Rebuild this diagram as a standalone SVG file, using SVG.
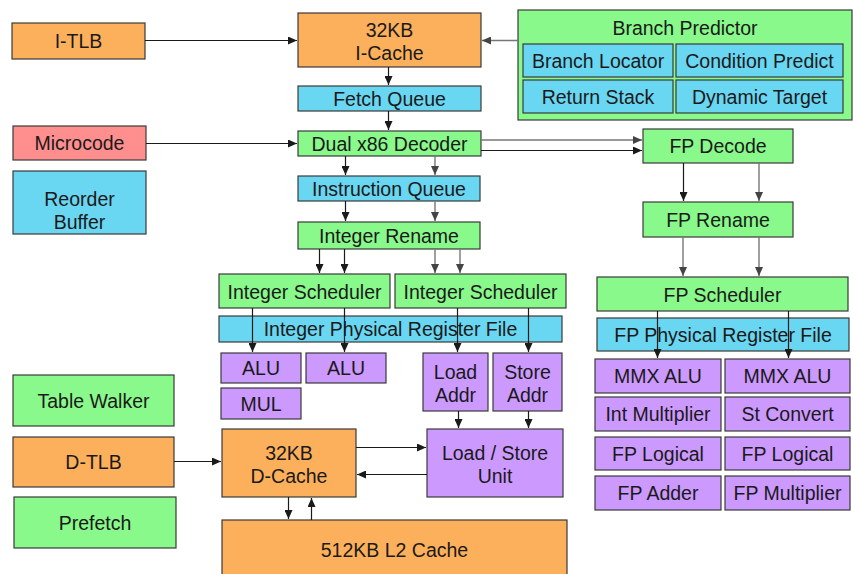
<svg xmlns="http://www.w3.org/2000/svg" width="853" height="574" viewBox="0 0 853 574">
<style>
rect{stroke:#3a3a3a;stroke-width:1.2}
.o{fill:#FDB05B}.g{fill:#88F98A}.b{fill:#69D6F2}.p{fill:#CC99FF}.r{fill:#FF8E8E}
text{font-family:"Liberation Sans",Arial,sans-serif;font-size:19.5px;fill:#1a1a1a;text-anchor:middle;dominant-baseline:central}
.k{stroke:#1a1a1a;stroke-width:1.2;fill:none}
.s{stroke:#777;stroke-width:1.4;fill:none}
</style>
<defs>
<marker id="ak" markerUnits="userSpaceOnUse" markerWidth="9" markerHeight="8" refX="9" refY="4" orient="auto"><path d="M0,0L9,4L0,8z" fill="#1a1a1a"/></marker>
<marker id="as" markerUnits="userSpaceOnUse" markerWidth="9" markerHeight="8" refX="9" refY="4" orient="auto"><path d="M0,0L9,4L0,8z" fill="#444"/></marker>
</defs>
<g id="itlb"><rect class="o" x="12" y="23" width="133" height="36"/><text x="78.5" y="41">I-TLB</text></g>
<g id="microcode"><rect class="r" x="13" y="126" width="133" height="34"/><text x="79.5" y="143">Microcode</text></g>
<g id="reorder"><rect class="b" x="13" y="171" width="133" height="63"/><text x="79.5" y="199">Reorder</text><text x="79.5" y="222">Buffer</text></g>
<g id="tablewalker"><rect class="g" x="13" y="375" width="161" height="51"/><text x="93.5" y="401">Table Walker</text></g>
<g id="dtlb"><rect class="o" x="13" y="437" width="161" height="50"/><text x="93.5" y="462">D-TLB</text></g>
<g id="prefetch"><rect class="g" x="14" y="497" width="162" height="51"/><text x="95" y="523">Prefetch</text></g>
<g id="icache"><rect class="o" x="298" y="13" width="183" height="54"/><text x="389.5" y="30">32KB</text><text x="389.5" y="53">I-Cache</text></g>
<g id="fetchq"><rect class="b" x="298" y="86" width="183" height="25"/><text x="389.5" y="99">Fetch Queue</text></g>
<g id="decoder"><rect class="g" x="298" y="131" width="183" height="25"/><text x="389.5" y="144">Dual x86 Decoder</text></g>
<g id="instrq"><rect class="b" x="298" y="176" width="182" height="25"/><text x="389" y="189">Instruction Queue</text></g>
<g id="intrename"><rect class="g" x="298" y="222" width="182" height="27"/><text x="389" y="236">Integer Rename</text></g>
<g id="intsched1"><rect class="g" x="219" y="274" width="171" height="34"/><text x="304.5" y="292">Integer Scheduler</text></g>
<g id="intsched2"><rect class="g" x="395" y="274" width="171" height="34"/><text x="480.5" y="292">Integer Scheduler</text></g>
<g id="intprf"><rect class="b" x="219" y="316" width="343" height="26"/><text x="390.5" y="329">Integer Physical Register File</text></g>
<g id="alu1"><rect class="p" x="221" y="353" width="80" height="30"/><text x="261" y="368">ALU</text></g>
<g id="alu2"><rect class="p" x="306" y="353" width="80" height="30"/><text x="346" y="368">ALU</text></g>
<g id="mul"><rect class="p" x="221" y="388" width="80" height="31"/><text x="261" y="404">MUL</text></g>
<g id="loadaddr"><rect class="p" x="423" y="353" width="65" height="58"/><text x="455.5" y="372">Load</text><text x="455.5" y="395">Addr</text></g>
<g id="storeaddr"><rect class="p" x="493" y="353" width="69" height="58"/><text x="527.5" y="372">Store</text><text x="527.5" y="395">Addr</text></g>
<g id="dcache"><rect class="o" x="222" y="429" width="134" height="68"/><text x="289" y="453">32KB</text><text x="289" y="476">D-Cache</text></g>
<g id="lsu"><rect class="p" x="427" y="429" width="136" height="68"/><text x="495" y="453">Load / Store</text><text x="495" y="476">Unit</text></g>
<g id="l2"><rect class="o" x="222" y="520" width="345" height="70"/><text x="394.5" y="550">512KB L2 Cache</text></g>
<g id="branchpred"><rect class="g" x="518" y="10" width="334" height="110"/><text x="685" y="28">Branch Predictor</text>
<rect class="b" x="523" y="44" width="150" height="33"/><text x="598" y="61">Branch Locator</text>
<rect class="b" x="676" y="44" width="167" height="33"/><text x="759.5" y="61">Condition Predict</text>
<rect class="b" x="523" y="80" width="150" height="33"/><text x="598" y="97">Return Stack</text>
<rect class="b" x="676" y="80" width="167" height="33"/><text x="759.5" y="97">Dynamic Target</text></g>
<g id="fpdecode"><rect class="g" x="643" y="129" width="150" height="34"/><text x="718" y="146">FP Decode</text></g>
<g id="fprename"><rect class="g" x="643" y="202" width="150" height="35"/><text x="718" y="220">FP Rename</text></g>
<g id="fpsched"><rect class="g" x="597" y="277" width="251" height="34"/><text x="722.5" y="295">FP Scheduler</text></g>
<g id="fpprf"><rect class="b" x="597" y="318" width="252" height="33"/><text x="723" y="335">FP Physical Register File</text></g>
<g id="fpunits">
<rect class="p" x="595" y="359" width="126" height="34"/><text x="658" y="376">MMX ALU</text>
<rect class="p" x="725" y="359" width="125" height="34"/><text x="787.5" y="376">MMX ALU</text>
<rect class="p" x="595" y="397" width="126" height="34"/><text x="658" y="414">Int Multiplier</text>
<rect class="p" x="725" y="397" width="125" height="34"/><text x="787.5" y="414">St Convert</text>
<rect class="p" x="595" y="437" width="126" height="33"/><text x="658" y="454">FP Logical</text>
<rect class="p" x="725" y="437" width="125" height="33"/><text x="787.5" y="454">FP Logical</text>
<rect class="p" x="595" y="476" width="126" height="34"/><text x="658" y="493">FP Adder</text>
<rect class="p" x="725" y="476" width="125" height="34"/><text x="787.5" y="493">FP Multiplier</text>
</g>
<g id="connectors">
<path class="k" d="M145,40.5H297" marker-end="url(#ak)"/>
<path class="k" d="M146,143.5H297" marker-end="url(#ak)"/>
<path class="s" d="M518,40.5H482" marker-end="url(#as)"/>
<path class="k" d="M388.5,67V85" marker-end="url(#ak)"/>
<path class="k" d="M388.5,111V130" marker-end="url(#ak)"/>
<path class="s" d="M481,140H642" marker-end="url(#as)"/>
<path class="k" d="M481,150.5H642" marker-end="url(#ak)"/>
<path class="k" d="M345.5,156V175" marker-end="url(#ak)"/>
<path class="s" d="M435,156V175" marker-end="url(#as)"/>
<path class="k" d="M345.5,201V221" marker-end="url(#ak)"/>
<path class="s" d="M435,201V221" marker-end="url(#as)"/>
<path class="k" d="M319.5,249V273" marker-end="url(#ak)"/>
<path class="k" d="M344.5,249V273" marker-end="url(#ak)"/>
<path class="s" d="M435,249V273" marker-end="url(#as)"/>
<path class="s" d="M460,249V273" marker-end="url(#as)"/>
<path class="k" d="M252.5,308V352" marker-end="url(#ak)"/>
<path class="k" d="M344.5,308V352" marker-end="url(#ak)"/>
<path class="k" d="M457.5,308V352" marker-end="url(#ak)"/>
<path class="k" d="M528.5,308V352" marker-end="url(#ak)"/>
<path class="k" d="M458.5,411V428" marker-end="url(#ak)"/>
<path class="k" d="M528.5,411V428" marker-end="url(#ak)"/>
<path class="k" d="M356,447.5H426" marker-end="url(#ak)"/>
<path class="k" d="M427,474.5H357" marker-end="url(#ak)"/>
<path class="k" d="M174,461.5H221" marker-end="url(#ak)"/>
<path class="k" d="M288.5,497V519" marker-end="url(#ak)"/>
<path class="k" d="M311.5,520V498" marker-end="url(#ak)"/>
<path class="k" d="M683.5,163V201" marker-end="url(#ak)"/>
<path class="s" d="M759,163V201" marker-end="url(#as)"/>
<path class="s" d="M683,237V276" marker-end="url(#as)"/>
<path class="s" d="M759,237V276" marker-end="url(#as)"/>
<path class="k" d="M657.5,311V358" marker-end="url(#ak)"/>
<path class="k" d="M788.5,311V358" marker-end="url(#ak)"/>
</g>
</svg>
